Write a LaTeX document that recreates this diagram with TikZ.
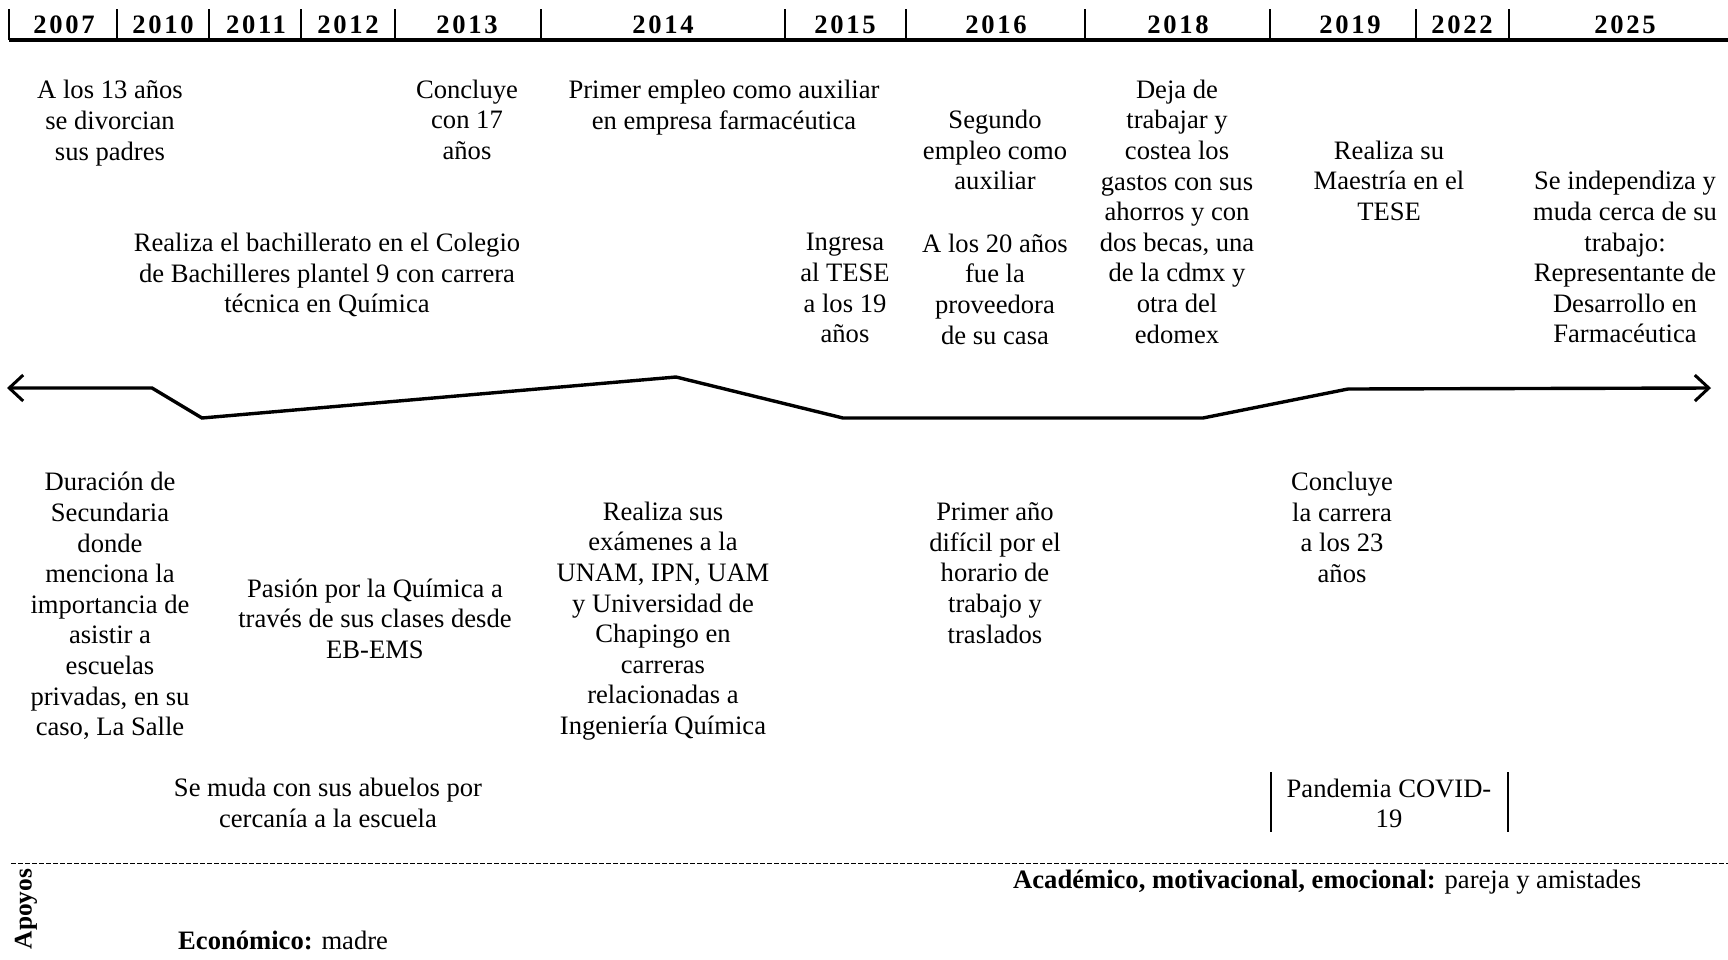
\documentclass[tikz,border=0pt]{standalone}
\usepackage{fontspec}
\IfFontExistsTF{LiberationSerif-Regular.ttf}
  {\setmainfont{LiberationSerif}[Extension=.ttf,UprightFont=*-Regular,BoldFont=*-Bold,ItalicFont=*-Italic,BoldItalicFont=*-BoldItalic]}
  {\setmainfont{Liberation Serif}}
\usetikzlibrary{arrows.meta}
\tikzset{
  txt/.style={align=center,inner sep=0pt,font=\fontsize{26.6}{30.6}\selectfont},
  yearlbl/.style={inner sep=0pt,font=\fontsize{26.6}{30}\selectfont\bfseries\addfontfeature{LetterSpace=10}},
  sep/.style={line width=1.6pt},
  axis/.style={line width=3.2pt},
  life/.style={line width=3.4pt,line join=miter},
  barb/.tip={Straight Barb[length=14pt,width=26pt,line width=3pt]},
  supp/.style={inner sep=0pt,anchor=west,font=\fontsize{26.6}{30.6}\selectfont},
}
\begin{document}
\begin{tikzpicture}[x=1pt,y=-1pt]
\useasboundingbox (0,0) rectangle (1728,959);

% header: year ruler
\draw[axis] (9,40) -- (1728,40);
\foreach \xx in {9,117,209,301,395,541,785,906,1085,1270,1416,1509}
  \draw[sep] (\xx,9) -- (\xx,40);
\node[yearlbl] (y2007) at (64,25) {2007};
\node[yearlbl] (y2010) at (163,25) {2010};
\node[yearlbl] (y2011) at (256,25) {2011};
\node[yearlbl] (y2012) at (348,25) {2012};
\node[yearlbl] (y2013) at (467,25) {2013};
\node[yearlbl] (y2014) at (663,25) {2014};
\node[yearlbl] (y2015) at (845,25) {2015};
\node[yearlbl] (y2016) at (996,25) {2016};
\node[yearlbl] (y2018) at (1178,25) {2018};
\node[yearlbl] (y2019) at (1350,25) {2019};
\node[yearlbl] (y2022) at (1462,25) {2022};
\node[yearlbl] (y2025) at (1625,25) {2025};

% events above the life line
\node[txt] (divorcio) at (110,123) {A los 13 años\\se divorcian\\sus padres};
\node[txt] (concluye17) at (467,119.6) {Concluye\\con 17\\años};
\node[txt] (empleo1) at (724,107.4) {Primer empleo como auxiliar\\en empresa farmacéutica};
\node[txt] (empleo2) at (995,149.9) {Segundo\\empleo como\\auxiliar};
\node[txt] (becas) at (1177,211.6) {Deja de\\trabajar y\\costea los\\gastos con sus\\ahorros y con\\dos becas, una\\de la cdmx y\\otra del\\edomex};
\node[txt] (maestria) at (1389,180.7) {Realiza su\\Maestría en el\\TESE};
\node[txt] (independiza) at (1625,257.3) {Se independiza y\\muda cerca de su\\trabajo:\\Representante de\\Desarrollo en\\Farmacéutica};
\node[txt] (bachillerato) at (327,275) {Realiza el bachillerato en el Colegio\\de Bachilleres plantel 9 con carrera\\técnica en Química};
\node[txt] (tese) at (845,288.2) {Ingresa\\al TESE\\a los 19\\años};
\node[txt] (proveedora) at (995,289) {A los 20 años\\fue la\\proveedora\\de su casa};

% life line
\coordinate (l0) at (7,388);
\coordinate (l1) at (152,388);
\coordinate (l2) at (202,418);
\coordinate (l3) at (676,377);
\coordinate (l4) at (843,418);
\coordinate (l5) at (1203,418);
\coordinate (l6) at (1348,389);
\coordinate (l7) at (1711,388);
\draw[life,barb-] (l0) -- (l1) -- (l2) -- (l3) -- (l4) -- (l5) -- (l6);
\draw[life,-barb] (l6) -- (l7);

% events below the life line
\node[txt] (secundaria) at (110,606) {Duración de\\Secundaria\\donde\\menciona la\\importancia de\\asistir a\\escuelas\\privadas, en su\\caso, La Salle};
\node[txt] (pasion) at (375,618.8) {Pasión por la Química a\\través de sus clases desde\\EB-EMS};
\node[txt] (examenes) at (663,621) {Realiza sus\\exámenes a la\\UNAM, IPN, UAM\\y Universidad de\\Chapingo en\\carreras\\relacionadas a\\Ingeniería Química};
\node[txt] (dificil) at (995,573) {Primer año\\difícil por el\\horario de\\trabajo y\\traslados};
\node[txt] (carrera) at (1342,527.3) {Concluye\\la carrera\\a los 23\\años};
\node[txt] (abuelos) at (328,802.8) {Se muda con sus abuelos por\\cercanía a la escuela};
\node[txt] (covid) at (1389,803.5) {Pandemia COVID-\\19};
\coordinate (c1t) at (1271,772); \coordinate (c1b) at (1271,832);
\coordinate (c2t) at (1508,772); \coordinate (c2b) at (1508,832);
\draw[sep] (c1t) -- (c1b);
\draw[sep] (c2t) -- (c2b);

% support networks
\coordinate (d0) at (11,863);
\coordinate (d1) at (1728,863);
\draw[line width=0.9pt,dash pattern=on 5pt off 2pt] (d0) -- (d1);
\node[inner sep=0pt,rotate=90,font=\fontsize{25.4}{30}\selectfont\bfseries] (apoyos) at (26,909) {Apoyos};
\node[supp] (academico) at (1013,882) {\textbf{Académico, motivacional, emocional:} pareja y amistades};
\node[supp] (economico) at (178,940) {\textbf{Económico:} madre};
\end{tikzpicture}
\end{document}
